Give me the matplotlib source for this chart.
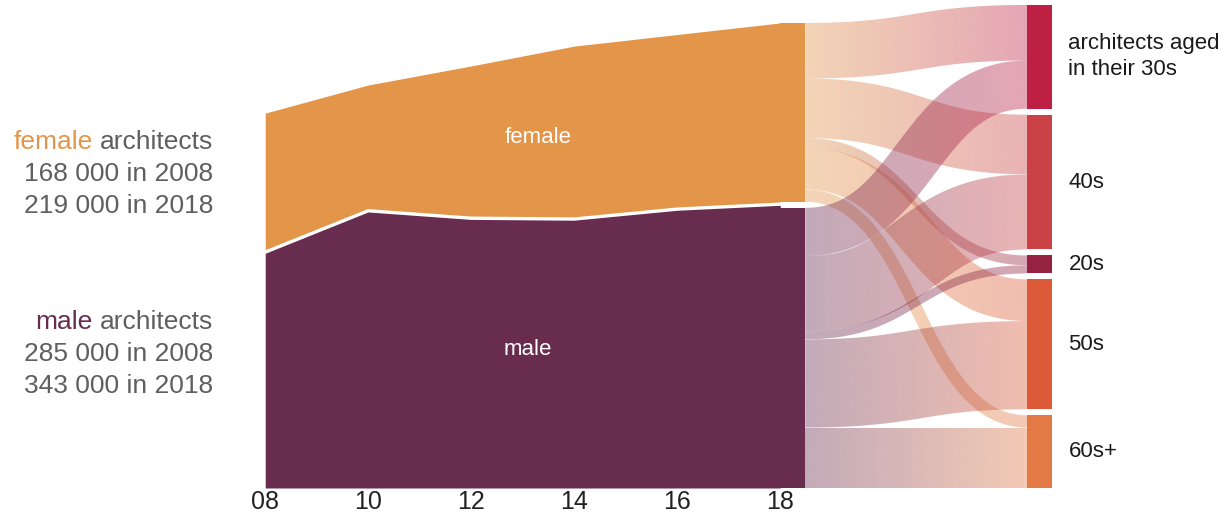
import numpy as np
import matplotlib
matplotlib.use("Agg")
import matplotlib.pyplot as plt
from matplotlib.patches import Polygon, Rectangle
from matplotlib.colors import to_rgb

plt.rcParams['font.family'] = ['Liberation Sans', 'DejaVu Sans']

# architects (thousands) per year
years = [2008, 2010, 2012, 2014, 2016, 2018]
male = [285, 335, 326, 325, 337, 343]
female = [168, 152, 184, 209, 211, 219]

# 2018 split by age group, top to bottom as drawn
ages = ['30s', '40s', '20s', '50s', '60s+']
age_labels = ['architects aged\nin their 30s', '40s', '20s', '50s', '60s+']
female_by_age = [68, 73, 12, 51, 15]
male_by_age = [59, 92, 10, 108, 74]

FEMALE_C = '#E3964A'
MALE_C = '#682C4F'
age_colors = ['#BE2044', '#CA4146', '#952241', '#DC5A37', '#E37945']
GREY = '#5f5f5f'

W, H = 1218, 518
fig = plt.figure(figsize=(W / 100, H / 100), dpi=100)
ax = fig.add_axes([0, 30 / H, 1, 488 / H])
ax.set_xlim(2002.85, 2026.5)
ax.set_ylim(0, 589.7)
ax.set_autoscale_on(False)
for s in ax.spines.values():
    s.set_visible(False)
ax.set_yticks([])
ax.set_xticks(years)
ax.set_xticklabels(["%02d" % (y % 100) for y in years])
ax.tick_params(axis='x', length=0, pad=1.5, labelsize=18, labelcolor='#222222')

# stacked area
m = np.array(male)
f = np.array(female)
ax.fill_between(years, 0, m, color=MALE_C, lw=0, zorder=2)
ax.fill_between(years, m, m + f, color=FEMALE_C, lw=0, zorder=2)
ax.plot(years, m, color='white', lw=2.4, zorder=3)

# sankey layout
k = 0.987      # sankey scale relative to the area scale
pad = 7.25     # gap between nodes
node_w = 0.485
x_left = years[-1]
x_right = 2022.8

left_nodes = [('female', female[-1], FEMALE_C, female_by_age),
              ('male', male[-1], MALE_C, male_by_age)]
left_pos = {}
y = 0
for name, v, c, _ in reversed(left_nodes):
    left_pos[name] = (y, y + v * k)
    y += v * k + pad

right_vals = [a + b for a, b in zip(female_by_age, male_by_age)]
right_pos = {}
y = 0
for age, v in reversed(list(zip(ages, right_vals))):
    right_pos[age] = (y, y + v * k)
    y += v * k + pad

for name, v, c, _ in left_nodes:
    y0, y1 = left_pos[name]
    ax.add_patch(Rectangle((x_left, y0), node_w, y1 - y0, color=c, lw=0, zorder=4))
for age, c in zip(ages, age_colors):
    y0, y1 = right_pos[age]
    ax.add_patch(Rectangle((x_right, y0), node_w, y1 - y0, color=c, lw=0, zorder=4))

px_per_unit = ax.transData.transform((0, 1))[1] - ax.transData.transform((0, 0))[1]


def band(xa, ya, xb, yb, w_px):
    # outline of a thick bezier stroke, like a d3 sankey link
    p0 = ax.transData.transform((xa, ya))
    p3 = ax.transData.transform((xb, yb))
    xm = (p0[0] + p3[0]) / 2
    p1 = np.array([xm, p0[1]])
    p2 = np.array([xm, p3[1]])
    t = np.linspace(0, 1, 160)[:, None]
    pts = (1 - t) ** 3 * p0 + 3 * (1 - t) ** 2 * t * p1 + 3 * (1 - t) * t ** 2 * p2 + t ** 3 * p3
    d = 3 * (1 - t) ** 2 * (p1 - p0) + 6 * (1 - t) * t * (p2 - p1) + 3 * t ** 2 * (p3 - p2)
    n = np.column_stack([-d[:, 1], d[:, 0]]) / np.linalg.norm(d, axis=1)[:, None]
    poly = np.vstack([pts + n * w_px / 2, (pts - n * w_px / 2)[::-1]])
    return ax.transData.inverted().transform(poly)


src_cur = {name: left_pos[name][1] for name, *_ in left_nodes}
tgt_cur = {age: right_pos[age][1] for age in ages}
grad = np.linspace(0, 1, 256)[:, None]
for name, v, c, split in left_nodes:
    for age, tc, val in zip(ages, age_colors, split):
        h = val * k
        ys = src_cur[name] - h / 2
        yt = tgt_cur[age] - h / 2
        src_cur[name] -= h
        tgt_cur[age] -= h
        xa, xb = x_left + node_w, x_right
        poly = band(xa, ys, xb, yt, h * px_per_unit)
        img = np.zeros((1, 256, 4))
        img[0, :, :3] = np.array(to_rgb(c)) * (1 - grad) + np.array(to_rgb(tc)) * grad
        img[0, :, 3] = 0.4
        im = ax.imshow(img, extent=(xa, xb, poly[:, 1].min(), poly[:, 1].max()),
                       aspect='auto', interpolation='bilinear', zorder=1)
        im.set_clip_path(Polygon(poly, closed=True, transform=ax.transData))

# right labels
for age, lab in zip(ages, age_labels):
    y0, y1 = right_pos[age]
    ax.annotate(lab, xy=(x_right + node_w, (y0 + y1) / 2), xytext=(11.5, 0),
                textcoords='offset points', va='center', ha='left',
                fontsize=16, color='#1a1a1a', linespacing=1.3)

# labels inside the area
ax.text(2013.3, 423.5, 'female', color='white', fontsize=16, ha='center', va='center', zorder=5)
ax.text(2013.1, 167.5, 'male', color='white', fontsize=16, ha='center', va='center', zorder=5)

# left side annotations
renderer = fig.canvas.get_renderer()
space = 19 * 100 / 72 * 0.278


def left_block(y_px, word, word_color, lines):
    t = fig.text(213 / W, 1 - y_px / H, 'architects', ha='right', va='center',
                 color=GREY, fontsize=19)
    bb = t.get_window_extent(renderer=renderer)
    fig.text((bb.x0 - space) / W, 1 - y_px / H, word, ha='right', va='center',
             color=word_color, fontsize=19)
    for i, line in enumerate(lines):
        fig.text(213 / W, 1 - (y_px + 32 * (i + 1)) / H, line, ha='right', va='center',
                 color=GREY, fontsize=19)


left_block(142, 'female', FEMALE_C,
           ['%d 000 in %d' % (female[0], years[0]), '%d 000 in %d' % (female[-1], years[-1])])
left_block(322, 'male', MALE_C,
           ['%d 000 in %d' % (male[0], years[0]), '%d 000 in %d' % (male[-1], years[-1])])

fig.savefig('out.png', dpi=100, facecolor='white')
